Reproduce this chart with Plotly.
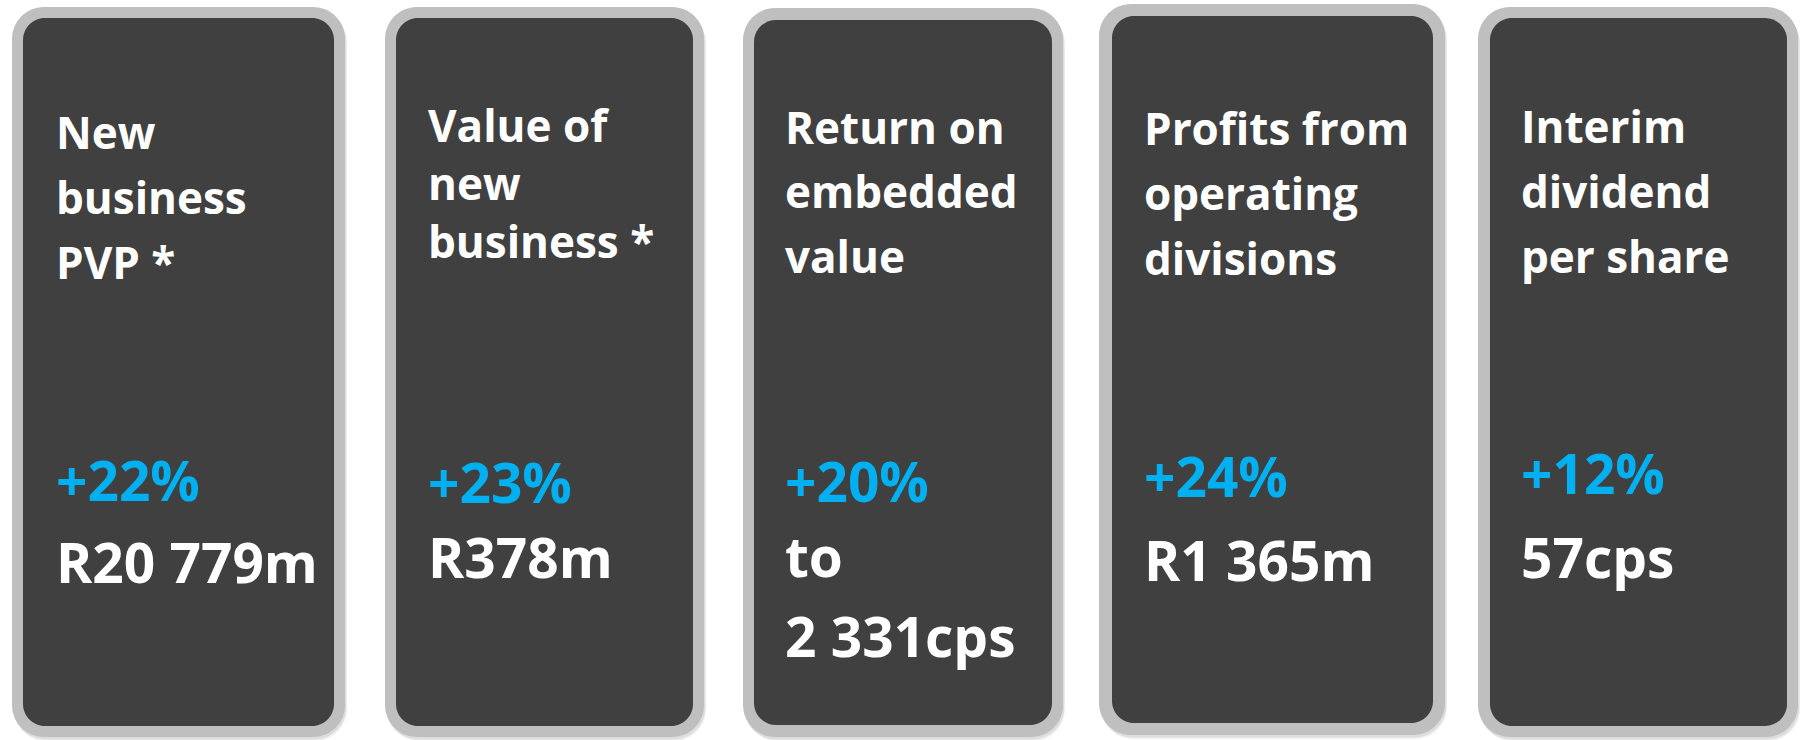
import plotly.graph_objects as go

# ---- content ----
titles = [
    ["New", "business", "PVP *"],
    ["Value of", "new", "business *"],
    ["Return on", "embedded", "value"],
    ["Profits from", "operating", "divisions"],
    ["Interim", "dividend", "per share"],
]
changes = ["+22%", "+23%", "+20%", "+24%", "+12%"]
values = [["R20 779m"], ["R378m"], ["to", "2 331cps"], ["R1 365m"], ["57cps"]]

# ---- layout (pixel geometry) ----
W, H = 1804, 740
outer_boxes = [(12, 7, 345, 737), (385, 7, 704, 737), (743, 8, 1063, 737),
               (1099, 4, 1445, 735), (1478, 7, 1798, 737)]
inner_boxes = [(23, 18, 334, 726), (396, 18, 693, 726), (754, 20, 1052, 725),
               (1112, 16, 1433, 723), (1490, 18, 1787, 726)]
text_left = [55, 427, 784, 1143, 1520]
title_baselines = [[149, 214, 279], [142, 200, 258], [144, 208, 273],
                   [145, 210, 275], [143, 208, 273]]
change_baselines = [501, 503, 502, 497, 494]
value_baselines = [[583], [578], [577, 657], [581], [578]]

FONT = "Open Sans"
TITLE_FS = 44
VALUE_FS = 55
ASC, DESC = 1.069, 0.293  # Open Sans metrics
BORDER = "#BFBFBF"
CARD = "#404040"
BLUE = "#00B0F0"


def rrect(x0, y0, x1, y1, r):
    k = 0.5523 * r
    return (f"M{x0 + r},{y0} L{x1 - r},{y0} "
            f"C{x1 - r + k},{y0} {x1},{y0 + r - k} {x1},{y0 + r} "
            f"L{x1},{y1 - r} "
            f"C{x1},{y1 - r + k} {x1 - r + k},{y1} {x1 - r},{y1} "
            f"L{x0 + r},{y1} "
            f"C{x0 + r - k},{y1} {x0},{y1 - r + k} {x0},{y1 - r} "
            f"L{x0},{y0 + r} "
            f"C{x0},{y0 + r - k} {x0 + r - k},{y0} {x0 + r},{y0} Z")


def center_from_baseline(b, fs):
    return b - (ASC - DESC) / 2 * fs


fig = go.Figure()
shapes = []
for (ox0, oy0, ox1, oy1), (ix0, iy0, ix1, iy1) in zip(outer_boxes, inner_boxes):
    # soft shadow
    for off, a in [(4, 0.06), (2.5, 0.08)]:
        shapes.append(dict(type="path", path=rrect(ox0 + off * 0.5, oy0 + off, ox1 + off * 0.5, oy1 + off, 32),
                           fillcolor=f"rgba(0,0,0,{a})", line=dict(width=0), layer="below"))
    shapes.append(dict(type="path", path=rrect(ox0, oy0, ox1, oy1, 32),
                       fillcolor=BORDER, line=dict(width=0), layer="below"))
    shapes.append(dict(type="path", path=rrect(ix0, iy0, ix1, iy1, 22),
                       fillcolor=CARD, line=dict(width=0), layer="below"))

annotations = []


def add_text(x, baseline, text, fs, color):
    annotations.append(dict(
        x=x, y=center_from_baseline(baseline, fs), xref="x", yref="y",
        text=text, showarrow=False, xanchor="left", yanchor="middle",
        font=dict(family=FONT, size=fs, color=color, weight="bold"),
        borderpad=0,
    ))


for i in range(len(titles)):
    for line, b in zip(titles[i], title_baselines[i]):
        add_text(text_left[i], b, line, TITLE_FS, "white")
    add_text(text_left[i], change_baselines[i], changes[i], VALUE_FS, BLUE)
    for line, b in zip(values[i], value_baselines[i]):
        add_text(text_left[i], b, line, VALUE_FS, "white")

fig.update_layout(
    width=W, height=H,
    margin=dict(l=0, r=0, t=0, b=0),
    paper_bgcolor="white", plot_bgcolor="white",
    xaxis=dict(range=[0, W], visible=False, fixedrange=True),
    yaxis=dict(range=[H, 0], visible=False, fixedrange=True),
    shapes=shapes, annotations=annotations,
    showlegend=False,
)
fig.write_html("out.html", config=dict(displayModeBar=False),
               post_script="document.body.style.margin='0';document.body.style.overflow='hidden';")
